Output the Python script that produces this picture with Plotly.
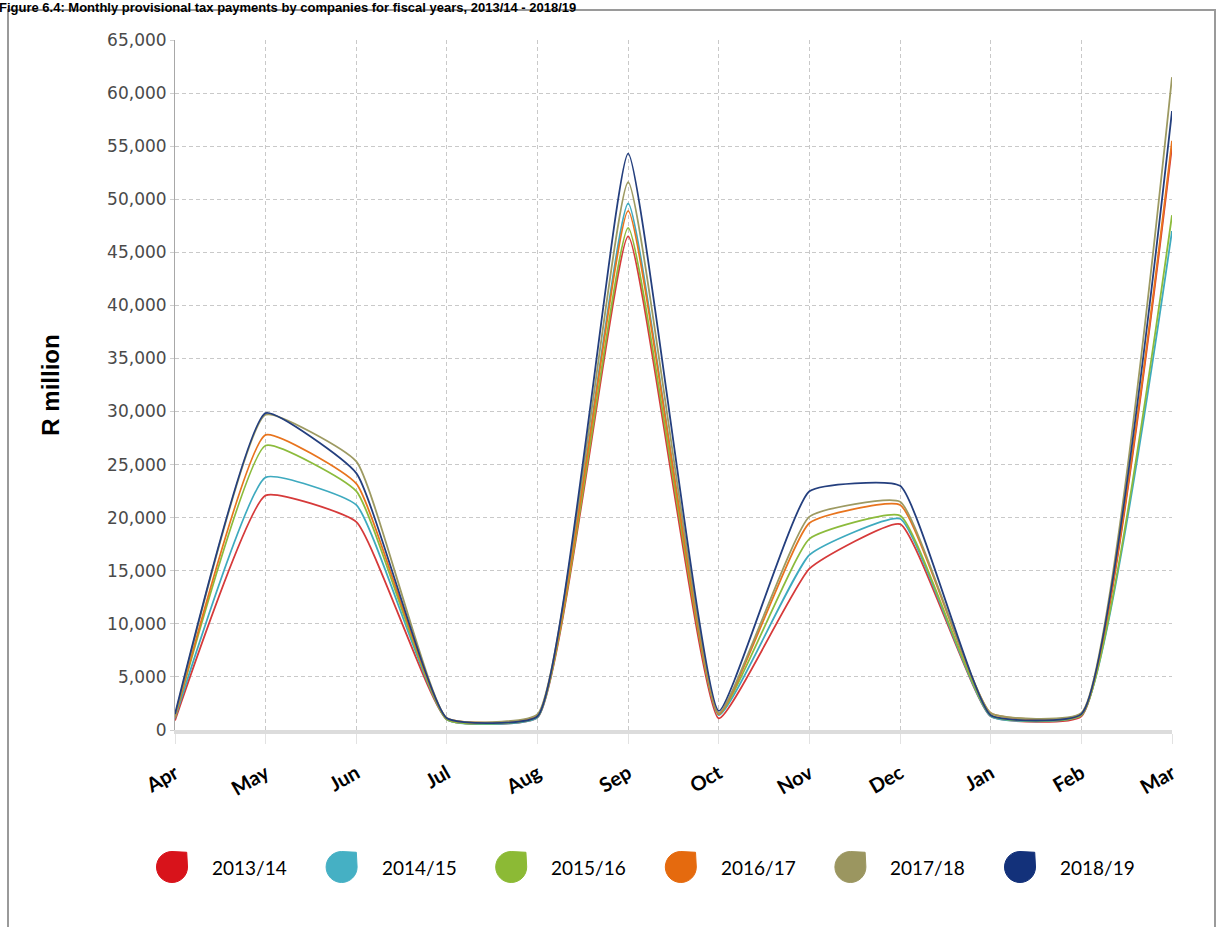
import plotly.graph_objects as go

# Monthly provisional tax payments by companies (R million)
months = ["Apr", "May", "Jun", "Jul", "Aug", "Sep", "Oct", "Nov", "Dec", "Jan", "Feb", "Mar"]

fy_2013_14 = [900, 22100, 19600, 1000, 1200, 46500, 1100, 15200, 19400, 1300, 1300, 55000]
fy_2014_15 = [1100, 23800, 21200, 1000, 1200, 49600, 1400, 16500, 19900, 1300, 1400, 47000]
fy_2015_16 = [1200, 26800, 22500, 1000, 1300, 47300, 1500, 18000, 20200, 1400, 1400, 48500]
fy_2016_17 = [1200, 27800, 23200, 1100, 1400, 48900, 1500, 19500, 21200, 1600, 1500, 55500]
fy_2017_18 = [1300, 29700, 25300, 1100, 1500, 51600, 1600, 20100, 21500, 1600, 1600, 61500]
fy_2018_19 = [1500, 29850, 24200, 1100, 1300, 54300, 1800, 22500, 23000, 1400, 1500, 58300]

series_names = ["2013/14", "2014/15", "2015/16", "2016/17", "2017/18", "2018/19"]
series_values = [fy_2013_14, fy_2014_15, fy_2015_16, fy_2016_17, fy_2017_18, fy_2018_19]
line_colors = ["#d63a3a", "#3eaabf", "#8cbb3c", "#e8741e", "#9d9a62", "#243f7e"]
swatch_colors = ["#d8131b", "#45b0c4", "#8cba35", "#e56a0e", "#9b9660", "#13317a"]

W, H = 1217, 927
L, R, T, B = 175, 45, 40, 197
PW, PH = W - L - R, H - T - B


def px(x):
    return (x - L) / PW


def py(y):
    return (H - B - y) / PH


fig = go.Figure()
for name, vals, col in zip(series_names, series_values, line_colors):
    fig.add_trace(go.Scatter(
        x=months, y=vals, name=name, mode="lines",
        line=dict(color=col, width=1.8, shape="spline", smoothing=0.4),
        showlegend=False,
    ))

shapes = []
annotations = []

# outer frame
shapes.append(dict(type="path", xref="paper", yref="paper",
                   path=f"M {px(8)} {py(935)} L {px(8)} {py(10)} L {px(1215)} {py(10)} L {px(1215)} {py(935)}",
                   line=dict(color="#9a9a9a", width=2)))

# legend swatches (drop shape) and labels
k = 0.5523
r = 15.5
for i, (name, col) in enumerate(zip(series_names, swatch_colors)):
    cx = 172 + i * 169.6
    cy = 867
    pts = (
        f"M {px(cx)} {py(cy - r)} "
        f"L {px(cx + r * 0.95)} {py(cy - r * 0.95)} "
        f"L {px(cx + r)} {py(cy)} "
        f"C {px(cx + r)} {py(cy + k * r)} {px(cx + k * r)} {py(cy + r)} {px(cx)} {py(cy + r)} "
        f"C {px(cx - k * r)} {py(cy + r)} {px(cx - r)} {py(cy + k * r)} {px(cx - r)} {py(cy)} "
        f"C {px(cx - r)} {py(cy - k * r)} {px(cx - k * r)} {py(cy - r)} {px(cx)} {py(cy - r)} Z"
    )
    shapes.append(dict(type="path", xref="paper", yref="paper", path=pts,
                       fillcolor=col, line=dict(color=col, width=1)))
    annotations.append(dict(xref="paper", yref="paper", x=px(cx + 38), y=py(cy),
                            xanchor="left", yanchor="middle", showarrow=False,
                            text=name, font=dict(family="Lato, Carlito, sans-serif", size=19, color="#000")))

# figure title
annotations.append(dict(xref="paper", yref="paper", x=px(-2), y=py(-1), xanchor="left", yanchor="top",
                        showarrow=False, borderpad=0,
                        text="<b>Figure 6.4: Monthly provisional tax payments by companies for fiscal years, 2013/14 - 2018/19</b>",
                        font=dict(family="Liberation Sans, Arial, sans-serif", size=13, color="#000")))

fig.update_layout(
    width=W, height=H,
    margin=dict(l=L, r=R, t=T, b=B, pad=0),
    paper_bgcolor="white", plot_bgcolor="white",
    shapes=shapes, annotations=annotations,
    xaxis=dict(
        type="category", range=[0, 11],
        showgrid=True, gridcolor="#c9c9c9", griddash="4px,3px", gridwidth=1,
        showline=True, linecolor="#dcdcdc", linewidth=4,
        ticks="outside", ticklen=10, tickcolor="#e2e2e2", tickwidth=1,
        tickangle=-30, ticklabelstandoff=10,
        tickfont=dict(family="Lato, Carlito, sans-serif", size=20, color="#000", weight="bold"),
        zeroline=False,
    ),
    yaxis=dict(
        range=[0, 65000], dtick=5000, tickformat=",",
        showgrid=True, gridcolor="#c9c9c9", griddash="4px,3px", gridwidth=1,
        showline=True, linecolor="#a8a8a8", linewidth=1,
        ticks="outside", ticklen=4, tickcolor="#cfcfcf",
        tickfont=dict(family="DejaVu Sans, sans-serif", size=17, color="#4a4a4a"),
        zeroline=False,
        title=dict(text="R million", standoff=40,
                   font=dict(family="Liberation Sans, Arial, sans-serif", size=24, color="#000", weight="bold")),
    ),
)

fig.write_html("out.html")
